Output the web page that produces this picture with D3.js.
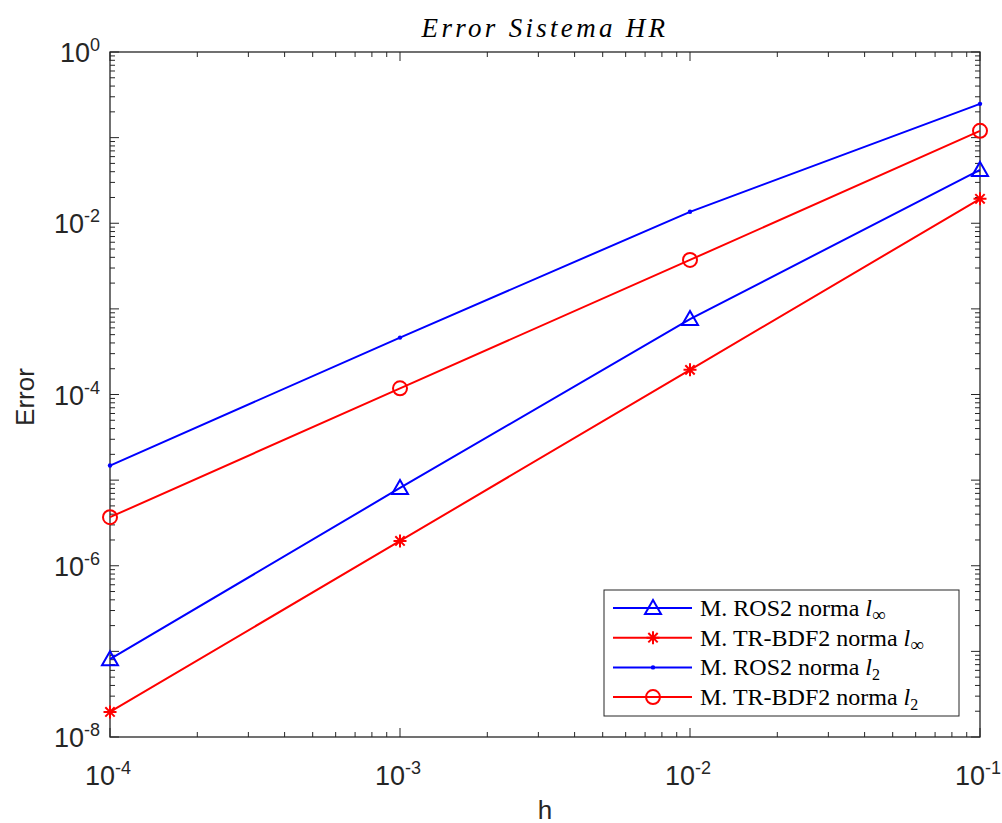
<!DOCTYPE html>
<html><head><meta charset="utf-8">
<script src="https://cdn.jsdelivr.net/npm/d3@7"></script>
<style>body{margin:0;background:#fff}</style>
</head><body>
<script>
const hValues = [1e-4, 1e-3, 1e-2, 1e-1];
const ros2Linf = [8.1e-8, 8.1e-6, 7.6e-4, 4.2e-2];
const trbdf2Linf = [1.96e-8, 1.95e-6, 1.94e-4, 1.93e-2];
const ros2L2 = [1.48e-5, 4.62e-4, 1.36e-2, 0.248];
const trbdf2L2 = [3.69e-6, 1.18e-4, 3.73e-3, 0.12];
const xTickExps = [-4, -3, -2, -1];
const yTickExps = [-8, -6, -4, -2, 0];
const seriesNames = ["M. ROS2 norma ", "M. TR-BDF2 norma ", "M. ROS2 norma ", "M. TR-BDF2 norma "];
const seriesSubs = ["∞", "∞", "2", "2"];

const W = 1002, H = 823;
const m = {l: 110, r: 980, t: 52, b: 737};
const svg = d3.select("body").append("svg").attr("width", W).attr("height", H);
const x = d3.scaleLog().domain([1e-4, 1e-1]).range([m.l, m.r]);
const y = d3.scaleLog().domain([1e-8, 1]).range([m.b, m.t]);
const axisCol = "#262626";
const sans = "'Liberation Sans', Arial, Helvetica, sans-serif";
const serif = "'Liberation Serif', 'DejaVu Serif', serif";

// ticks
const g = svg.append("g").attr("stroke", axisCol).attr("stroke-width", 1);
function minorTicks(dom) {
  const out = [];
  for (let e = Math.round(Math.log10(dom[0])); e < Math.round(Math.log10(dom[1])); e++)
    for (let k = 2; k <= 9; k++) out.push(k * Math.pow(10, e));
  return out;
}
minorTicks(x.domain()).forEach(v => {
  g.append("line").attr("x1", x(v)).attr("x2", x(v)).attr("y1", m.b).attr("y2", m.b - 5);
  g.append("line").attr("x1", x(v)).attr("x2", x(v)).attr("y1", m.t).attr("y2", m.t + 5);
});
xTickExps.forEach(e => {
  const v = Math.pow(10, e);
  g.append("line").attr("x1", x(v)).attr("x2", x(v)).attr("y1", m.b).attr("y2", m.b - 9);
  g.append("line").attr("x1", x(v)).attr("x2", x(v)).attr("y1", m.t).attr("y2", m.t + 9);
});
minorTicks(y.domain()).forEach(v => {
  g.append("line").attr("y1", y(v)).attr("y2", y(v)).attr("x1", m.l).attr("x2", m.l + 5);
  g.append("line").attr("y1", y(v)).attr("y2", y(v)).attr("x1", m.r).attr("x2", m.r - 5);
});
for (let e = -8; e <= 0; e++) {
  const v = Math.pow(10, e);
  g.append("line").attr("y1", y(v)).attr("y2", y(v)).attr("x1", m.l).attr("x2", m.l + 9);
  g.append("line").attr("y1", y(v)).attr("y2", y(v)).attr("x1", m.r).attr("x2", m.r - 9);
}
g.append("rect").attr("x", m.l).attr("y", m.t).attr("width", m.r - m.l).attr("height", m.b - m.t)
  .attr("fill", "none").attr("stroke-width", 1.3);

// tick labels
function powLabel(sel, e) {
  sel.append("tspan").text("10");
  sel.append("tspan").attr("font-size", 18).attr("dy", -11).text(String(e));
}
xTickExps.forEach(e => {
  const t = svg.append("text").attr("x", x(Math.pow(10, e)) - 2).attr("y", 785)
    .attr("text-anchor", "middle").attr("font-family", sans).attr("font-size", 27).attr("fill", axisCol);
  powLabel(t, e);
});
yTickExps.forEach(e => {
  const t = svg.append("text").attr("x", 100).attr("y", y(Math.pow(10, e)) + 10)
    .attr("text-anchor", "end").attr("font-family", sans).attr("font-size", 27).attr("fill", axisCol);
  powLabel(t, e);
});

// axis labels & title
svg.append("text").attr("x", 545).attr("y", 819).attr("text-anchor", "middle")
  .attr("font-family", sans).attr("font-size", 26).attr("fill", axisCol).text("h");
svg.append("text").attr("transform", "translate(34,397) rotate(-90)").attr("text-anchor", "middle")
  .attr("font-family", sans).attr("font-size", 26).attr("fill", axisCol).text("Error");
svg.append("text").attr("x", 545).attr("y", 37).attr("text-anchor", "middle")
  .attr("font-family", serif).attr("font-style", "italic").attr("font-size", 27).attr("fill", "#000")
  .attr("letter-spacing", 3.3)
  .text("Error Sistema HR");

// series
const line = d3.line().x(d => x(d[0])).y(d => y(d[1]));
const series = [
  {vals: ros2Linf, color: "#0000ff", marker: "tri"},
  {vals: trbdf2Linf, color: "#ff0000", marker: "star"},
  {vals: ros2L2, color: "#0000ff", marker: "dot"},
  {vals: trbdf2L2, color: "#ff0000", marker: "circ"}
];
function drawMarker(gm, type, cx, cy, color) {
  if (type === "tri") {
    const s = 8;
    gm.append("path").attr("d", `M${cx},${cy - s}L${cx + s},${cy + s * 0.75}L${cx - s},${cy + s * 0.75}Z`)
      .attr("fill", "none").attr("stroke", color).attr("stroke-width", 2);
  } else if (type === "circ") {
    gm.append("circle").attr("cx", cx).attr("cy", cy).attr("r", 7).attr("fill", "none")
      .attr("stroke", color).attr("stroke-width", 2);
  } else if (type === "dot") {
    gm.append("circle").attr("cx", cx).attr("cy", cy).attr("r", 2.2).attr("fill", color);
  } else if (type === "star") {
    const s = 6.5;
    let d = `M${cx - s},${cy}L${cx + s},${cy}M${cx},${cy - s}L${cx},${cy + s}`;
    const q = s * 0.72;
    d += `M${cx - q},${cy - q}L${cx + q},${cy + q}M${cx - q},${cy + q}L${cx + q},${cy - q}`;
    gm.append("path").attr("d", d).attr("stroke", color).attr("stroke-width", 2);
  }
}
series.forEach(s => {
  const data = hValues.map((h, i) => [h, s.vals[i]]);
  svg.append("path").attr("d", line(data)).attr("fill", "none").attr("stroke", s.color).attr("stroke-width", 2);
  const gm = svg.append("g");
  data.forEach(d => drawMarker(gm, s.marker, x(d[0]), y(d[1]), s.color));
});

// legend
const lg = svg.append("g");
lg.append("rect").attr("x", 604).attr("y", 590).attr("width", 355).attr("height", 126)
  .attr("fill", "#fff").attr("stroke", axisCol).attr("stroke-width", 1);
series.forEach((s, i) => {
  const yy = 608 + i * 29.7;
  lg.append("line").attr("x1", 613).attr("x2", 692).attr("y1", yy).attr("y2", yy)
    .attr("stroke", s.color).attr("stroke-width", 2);
  drawMarker(lg, s.marker, 653, yy, s.color);
  const t = lg.append("text").attr("x", 700).attr("y", yy + 8).attr("font-family", serif)
    .attr("font-size", 24).attr("fill", "#000");
  t.append("tspan").text(seriesNames[i]);
  t.append("tspan").attr("font-style", "italic").text("l");
  t.append("tspan").attr("font-size", seriesSubs[i] === "∞" ? 19 : 16).attr("dy", 5).text(seriesSubs[i]);
});
</script>
</body></html>
